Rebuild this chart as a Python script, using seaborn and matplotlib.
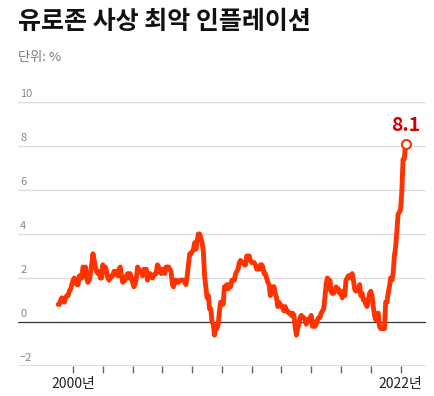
import numpy as np
import pandas as pd
import matplotlib
matplotlib.use("Agg")
import matplotlib.pyplot as plt
import seaborn as sns

# Euro area HICP, annual rate of change (%), monthly from Jan 1999 to May 2022
start_year = 1999
hicp = [
    # 1999
    0.8, 0.8, 1.0, 1.1, 1.0, 0.9, 1.1, 1.2, 1.2, 1.4, 1.5, 1.7,
    # 2000
    1.9, 2.0, 1.9, 1.7, 1.7, 2.1, 2.0, 2.0, 2.5, 2.4, 2.5, 2.0,
    # 2001
    1.8, 1.9, 2.2, 2.6, 3.1, 2.8, 2.5, 2.3, 2.2, 2.3, 2.0, 2.0,
    # 2002
    2.6, 2.3, 2.5, 2.3, 2.0, 1.9, 2.0, 2.1, 2.1, 2.3, 2.3, 2.3,
    # 2003
    2.1, 2.4, 2.5, 2.1, 1.8, 1.9, 1.9, 2.1, 2.2, 2.0, 2.2, 2.0,
    # 2004
    1.8, 1.6, 1.7, 2.0, 2.5, 2.4, 2.3, 2.3, 2.1, 2.4, 2.2, 2.4,
    # 2005
    1.9, 2.1, 2.2, 2.1, 2.0, 2.1, 2.2, 2.2, 2.6, 2.5, 2.3, 2.2,
    # 2006
    2.4, 2.3, 2.2, 2.5, 2.5, 2.5, 2.4, 2.3, 1.7, 1.6, 1.9, 1.9,
    # 2007
    1.8, 1.8, 1.9, 1.9, 1.9, 1.9, 1.8, 1.7, 2.1, 2.6, 3.1, 3.1,
    # 2008
    3.2, 3.3, 3.6, 3.3, 3.7, 4.0, 4.0, 3.8, 3.6, 3.2, 2.1, 1.6,
    # 2009
    1.1, 1.2, 0.6, 0.6, 0.0, -0.1, -0.6, -0.2, -0.3, -0.1, 0.5, 0.9,
    # 2010
    0.9, 0.8, 1.6, 1.6, 1.7, 1.5, 1.7, 1.6, 1.9, 1.9, 1.9, 2.2,
    # 2011
    2.3, 2.4, 2.7, 2.8, 2.7, 2.7, 2.6, 2.6, 3.0, 3.0, 3.0, 2.8,
    # 2012
    2.7, 2.7, 2.7, 2.6, 2.4, 2.4, 2.4, 2.6, 2.6, 2.5, 2.2, 2.2,
    # 2013
    2.0, 1.8, 1.7, 1.2, 1.4, 1.6, 1.6, 1.3, 1.1, 0.7, 0.9, 0.8,
    # 2014
    0.7, 0.7, 0.5, 0.7, 0.5, 0.5, 0.4, 0.4, 0.3, 0.4, 0.3, -0.2,
    # 2015
    -0.6, -0.3, -0.1, 0.2, 0.3, 0.2, 0.2, 0.1, -0.1, 0.1, 0.1, 0.2,
    # 2016
    0.3, -0.2, 0.0, -0.2, -0.1, 0.1, 0.2, 0.2, 0.4, 0.5, 0.6, 1.1,
    # 2017
    1.7, 2.0, 1.5, 1.9, 1.4, 1.3, 1.3, 1.5, 1.6, 1.4, 1.5, 1.3,
    # 2018
    1.3, 1.1, 1.4, 1.2, 1.9, 2.0, 2.1, 2.0, 2.1, 2.2, 1.9, 1.5,
    # 2019
    1.4, 1.5, 1.4, 1.7, 1.2, 1.3, 1.0, 1.0, 0.8, 0.7, 1.0, 1.3,
    # 2020
    1.4, 1.2, 0.7, 0.3, 0.1, 0.3, 0.4, -0.2, -0.3, -0.3, -0.3, -0.3,
    # 2021
    0.9, 0.9, 1.3, 1.6, 2.0, 1.9, 2.2, 3.0, 3.4, 4.1, 4.9, 5.0,
    # 2022
    5.1, 5.9, 7.4, 7.4, 8.1,
]
y_ticks = [-2, 0, 2, 4, 6, 8, 10]
x_ticks = list(range(2000, 2023, 2))
x_labels = {2000: "2000년", 2022: "2022년"}
title = "유로존 사상 최악 인플레이션"
unit = "단위: %"

df = pd.DataFrame({
    "year": start_year + np.arange(len(hicp)) / 12,
    "rate": hicp,
})

sns.set_theme(style="white")
plt.rcParams["font.family"] = ["Noto Sans CJK KR", "DejaVu Sans"]

line_color = "#ff3300"
label_color = "#d40000"

fig = plt.figure(figsize=(4.35, 3.96), dpi=100)
ax = fig.add_axes([0.0414, 0.0758, 0.9376, 0.6666])

sns.lineplot(data=df, x="year", y="rate", ax=ax, color=line_color,
             linewidth=3.5, solid_joinstyle="round", solid_capstyle="round",
             zorder=3, clip_on=False)

last = df.iloc[-1]
ax.plot(last["year"], last["rate"], "o", markersize=6.5, markerfacecolor="white",
        markeredgecolor=line_color, markeredgewidth=1.5, zorder=4, clip_on=False)
ax.text(last["year"], last["rate"] + 0.4, f"{last['rate']:.1f}", ha="center",
        va="bottom", color=label_color, fontsize=14, fontweight="bold")

ax.set_xlim(1996.3, 2023.7)
ax.set_ylim(-2, 10)

# horizontal gridlines with labels sitting on top of them
for v in y_ticks:
    if v == 0:
        ax.axhline(v, color="#333333", linewidth=0.9, zorder=2)
    elif v == -2:
        ax.axhline(v, color="#555555", linewidth=1.0, zorder=2)
    else:
        ax.axhline(v, color="#dddddd", linewidth=1.0, zorder=1)
    ax.text(0.005, v + 0.12, f"{v}".replace("-", "\u2212"),
            transform=ax.get_yaxis_transform(), ha="left", va="bottom",
            fontsize=8, color="#888888")

ax.set_xticks(x_ticks)
ax.set_xticklabels([x_labels.get(t, "") for t in x_ticks])
ax.tick_params(axis="x", direction="out", length=5, width=1, color="#666666",
               labelsize=10, labelcolor="#222222", pad=3, bottom=True)
ax.set_yticks([])
ax.set_xlabel("")
ax.set_ylabel("")
for side in ["top", "right", "left", "bottom"]:
    ax.spines[side].set_visible(False)

fig.text(0.041, 0.915, title, fontsize=18, fontweight="black", color="#111111",
         ha="left", va="bottom")
fig.text(0.041, 0.838, unit, fontsize=9.5, color="#777777", ha="left", va="bottom")

fig.savefig("out.png", dpi=100, facecolor="white")
